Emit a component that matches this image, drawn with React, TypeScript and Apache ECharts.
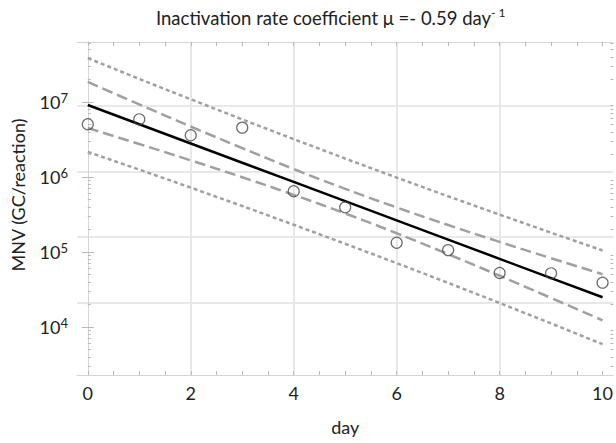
import React, { useEffect, useRef } from "react";
import * as echarts from "echarts";

// ---- data ----
const days = [0, 1, 2, 3, 4, 5, 6, 7, 8, 9, 10];
const observed = [5.05e6, 5.88e6, 3.6e6, 4.55e6, 6.45e5, 3.94e5, 1.33e5, 1.06e5, 5.25e4, 5.2e4, 3.9e4];
const fitLine = [9.12e6, 5.05e6, 2.8e6, 1.551e6, 8.6e5, 4.76e5, 2.64e5, 1.463e5, 8.11e4, 4.49e4, 2.49e4];
const ciUpper = [1.85e7, 9.29e6, 4.71e6, 2.43e6, 1.277e6, 6.95e5, 3.93e5, 2.29e5, 1.364e5, 8.26e4, 5.05e4];
const ciLower = [4.5e6, 2.75e6, 1.665e6, 9.93e5, 5.78e5, 3.27e5, 1.778e5, 9.36e4, 4.82e4, 2.44e4, 1.228e4];
const piUpper = [3.85e7, 2.03e7, 1.087e7, 5.86e6, 3.2e6, 1.762e6, 9.82e5, 5.53e5, 3.15e5, 1.808e5, 1.049e5];
const piLower = [2.16e6, 1.255e6, 7.22e5, 4.1e5, 2.31e5, 1.288e5, 7.1e4, 3.87e4, 2.09e4, 1.116e4, 5.9e3];

const xTickLabels = [0, 2, 4, 6, 8, 10];
const xGridValues = [2, 4, 6, 8];
const yDecades = [1e4, 1e5, 1e6, 1e7];
const yGridValues = [8.9e6, 1.16e6, 1.585e5, 2.1e4];

const TITLE = "Inactivation rate coefficient μ =- 0.59 day";
const Y_NAME = "MNV (GC/reaction)";
const X_NAME = "day";

const FONT = "Lato";
const X_MIN = -0.21;
const X_MAX = 10.21;
const Y_MIN = 2291;
const Y_MAX = 6.31e7;

const xMinorTicks: number[] = [];
for (let i = 0; i <= 20; i++) xMinorTicks.push(i / 2);
const yMinorTicks: number[] = [];
for (let d = 3; d <= 7; d++) {
  for (let k = 2; k <= 9; k++) {
    const v = k * Math.pow(10, d);
    if (v > Y_MIN && v < Y_MAX) yMinorTicks.push(v);
  }
}

const pairs = (ys: number[]) => days.map((d, i) => [d, ys[i]]);

const AXIS_COLOR = "#d4d4d4";
const TICK_COLOR = "#b8b8b8";
const GRID_COLOR = "#e8e8e8";

export default function App() {
  const ref = useRef<HTMLDivElement>(null);
  useEffect(() => {
    if (!ref.current) return;
    const chart = echarts.init(ref.current, undefined, { renderer: "svg" });

    const baseX = {
      type: "value",
      min: X_MIN,
      max: X_MAX,
      splitLine: { show: false },
    };
    const baseY = {
      type: "log",
      min: Y_MIN,
      max: Y_MAX,
      splitLine: { show: false },
    };

    const option: any = {
      animation: false,
      backgroundColor: "#ffffff",
      title: {
        text: TITLE + "{sup|- 1}",
        left: 156,
        top: 6,
        padding: 0,
        textStyle: {
          fontFamily: FONT,
          fontSize: 18.5,
          fontWeight: "normal",
          color: "#222",
          lineHeight: 24,
          rich: {
            sup: { fontFamily: FONT, fontSize: 12, color: "#222", verticalAlign: "top", lineHeight: 14 },
          },
        },
      },
      grid: { left: 77, right: 2, top: 42, bottom: 68, containLabel: false },
      xAxis: [
        {
          ...baseX,
          position: "bottom",
          name: X_NAME,
          nameLocation: "middle",
          nameGap: 43,
          nameTextStyle: { fontFamily: FONT, fontSize: 18, color: "#222" },
          axisLine: { show: true, lineStyle: { color: AXIS_COLOR, width: 1 } },
          axisTick: { show: true, inside: true, length: 4, customValues: xMinorTicks, lineStyle: { color: TICK_COLOR } },
          axisLabel: { customValues: xTickLabels, margin: 9, fontFamily: FONT, fontSize: 18, color: "#222" },
        },
        {
          ...baseX,
          position: "top",
          axisLine: { show: true, lineStyle: { color: AXIS_COLOR, width: 1 } },
          axisTick: { show: true, inside: true, length: 4, customValues: xMinorTicks, lineStyle: { color: TICK_COLOR } },
          axisLabel: { show: false },
        },
        {
          ...baseX,
          position: "bottom",
          axisLine: { show: false },
          axisTick: { show: false, customValues: xGridValues },
          axisLabel: { show: false },
          splitLine: { show: true, lineStyle: { color: GRID_COLOR, width: 2 } },
        },
      ],
      yAxis: [
        {
          ...baseY,
          position: "left",
          name: Y_NAME,
          nameLocation: "middle",
          nameGap: 50,
          nameTextStyle: { fontFamily: FONT, fontSize: 18, color: "#222", padding: [0, 0, 0, 27] },
          axisLine: { show: true, lineStyle: { color: AXIS_COLOR, width: 1 } },
          axisTick: { show: true, inside: true, length: 6, customValues: yDecades, lineStyle: { color: TICK_COLOR } },
          axisLabel: {
            customValues: yDecades,
            margin: 9,
            formatter: (v: number) => `{b|10}{s|${Math.round(Math.log10(v))}}`,
            rich: {
              b: { fontFamily: FONT, fontSize: 18, color: "#222", lineHeight: 22 },
              s: { fontFamily: FONT, fontSize: 13, color: "#222", verticalAlign: "top", lineHeight: 14 },
            },
          },
        },
        {
          ...baseY,
          position: "left",
          axisLine: { show: false },
          axisTick: { show: true, inside: true, length: 3, customValues: yMinorTicks, lineStyle: { color: TICK_COLOR } },
          axisLabel: { show: false },
        },
        {
          ...baseY,
          position: "right",
          axisLine: { show: true, lineStyle: { color: AXIS_COLOR, width: 1 } },
          axisTick: { show: true, inside: true, length: 6, customValues: yDecades, lineStyle: { color: TICK_COLOR } },
          axisLabel: { show: false },
        },
        {
          ...baseY,
          position: "right",
          axisLine: { show: false },
          axisTick: { show: true, inside: true, length: 3, customValues: yMinorTicks, lineStyle: { color: TICK_COLOR } },
          axisLabel: { show: false },
        },
        {
          ...baseY,
          position: "left",
          axisLine: { show: false },
          axisTick: { show: false, customValues: yGridValues },
          axisLabel: { show: false },
          splitLine: { show: true, lineStyle: { color: GRID_COLOR, width: 2 } },
        },
      ],
      series: [
        {
          name: "PI upper",
          type: "line",
          data: pairs(piUpper),
          symbol: "none",
          smooth: false,
          lineStyle: { color: "#a0a0a0", width: 2.5, type: [4, 3] },
        },
        {
          name: "PI lower",
          type: "line",
          data: pairs(piLower),
          symbol: "none",
          lineStyle: { color: "#a0a0a0", width: 2.5, type: [4, 3] },
        },
        {
          name: "CI upper",
          type: "line",
          data: pairs(ciUpper),
          symbol: "none",
          smooth: true,
          lineStyle: { color: "#a0a0a0", width: 2.5, type: [11, 5] },
        },
        {
          name: "CI lower",
          type: "line",
          data: pairs(ciLower),
          symbol: "none",
          smooth: true,
          lineStyle: { color: "#a0a0a0", width: 2.5, type: [11, 5] },
        },
        {
          name: "Fit",
          type: "line",
          data: pairs(fitLine),
          symbol: "none",
          lineStyle: { color: "#000000", width: 2.5 },
        },
        {
          name: "Observed",
          type: "scatter",
          data: pairs(observed),
          symbol: "circle",
          symbolSize: 11,
          itemStyle: { color: "rgba(255,255,255,0)", borderColor: "#444", borderWidth: 1.2 },
          z: 5,
        },
      ],
    };
    chart.setOption(option);
    return () => chart.dispose();
  }, []);

  return (
    <div
      ref={ref}
      style={{ position: "absolute", left: 0, top: 0, width: 616, height: 443, background: "#fff" }}
    />
  );
}
